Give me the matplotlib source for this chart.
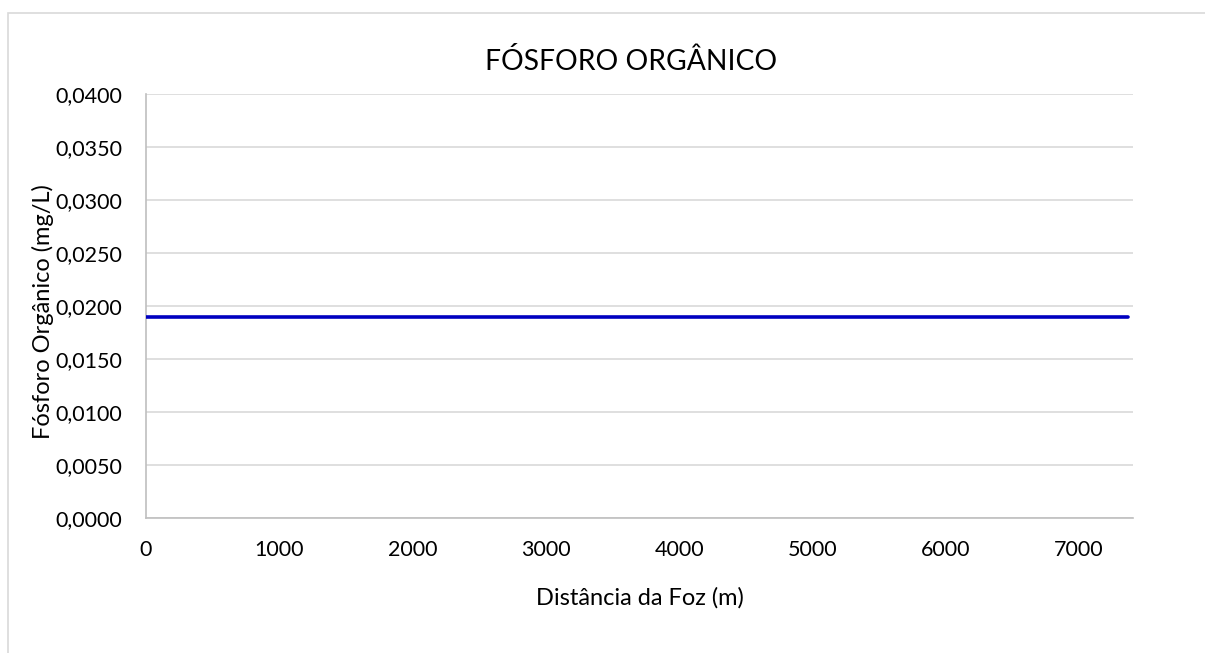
import matplotlib.pyplot as plt
from matplotlib.patches import Rectangle
from matplotlib.ticker import FuncFormatter

plt.rcParams['font.family'] = ['Lato', 'DejaVu Sans']

# data
distancia = [0, 1000, 2000, 3000, 4000, 5000, 6000, 7000, 7370]
fosforo_org = [0.019, 0.019, 0.019, 0.019, 0.019, 0.019, 0.019, 0.019, 0.019]
x_ticks = [0, 1000, 2000, 3000, 4000, 5000, 6000, 7000]
y_ticks = [0.0, 0.005, 0.01, 0.015, 0.02, 0.025, 0.03, 0.035, 0.04]

fig = plt.figure(figsize=(12.05, 6.53), dpi=100)
ax = fig.add_axes([0.1212, 0.2067, 0.819, 0.6493])

# chart frame (Excel style outer border)
fig.patches.append(Rectangle((8 / 1205, -0.1), 1.2, 1 - 13 / 653 + 0.1,
                             transform=fig.transFigure, fill=False,
                             edgecolor='#d9d9d9', linewidth=1.2))

ax.set_xlim(0, 7404)
ax.set_ylim(0, 0.04)
ax.set_xticks(x_ticks)
ax.set_yticks(y_ticks)
ax.yaxis.set_major_formatter(FuncFormatter(lambda v, p: f'{v:.4f}'.replace('.', ',')))

ax.grid(axis='y', color='#d9d9d9', linewidth=1.2, zorder=0)
for xt in x_ticks[1:]:
    ax.axvline(xt, color='white', linewidth=1.5, zorder=1)

ax.plot(distancia, fosforo_org, color='#0000c0', linewidth=2.6, zorder=3,
        solid_capstyle='round')

for s in ['top', 'right']:
    ax.spines[s].set_visible(False)
for s in ['left', 'bottom']:
    ax.spines[s].set_color('#bfbfbf')
    ax.spines[s].set_linewidth(1.2)
ax.tick_params(length=0, labelsize=15.5)
ax.tick_params(axis='y', pad=17)
ax.tick_params(axis='x', pad=16)

ax.set_title('FÓSFORO ORGÂNICO', fontsize=20.3, pad=17)
ax.title.set_x(0.491)
ax.set_xlabel('Distância da Foz (m)', fontsize=17)
ax.set_ylabel('Fósforo Orgânico (mg/L)', fontsize=17)
ax.xaxis.set_label_coords(0.5, -69 / 424, transform=ax.transAxes)
ax.yaxis.set_label_coords(-92 / 987, 0.487, transform=ax.transAxes)

fig.savefig('out.png', dpi=100)
